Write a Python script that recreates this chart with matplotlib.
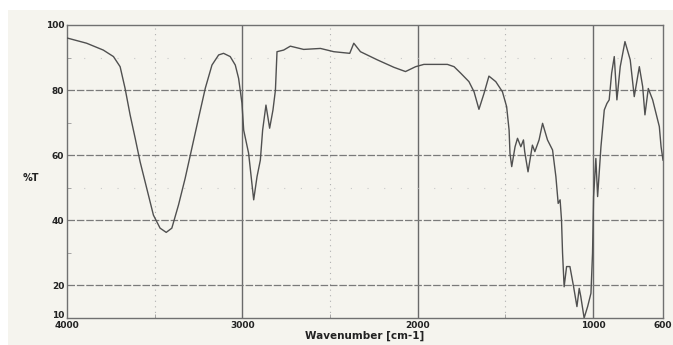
import numpy as np
import matplotlib.pyplot as plt
from matplotlib.patches import Rectangle

# IR spectrum: wavenumber [cm-1] and %T
wavenumber = [4000, 3992, 3888, 3793, 3735, 3697, 3669, 3640, 3611, 3583,
              3545, 3507, 3469, 3434, 3402, 3364, 3326, 3288, 3250, 3211,
              3173, 3135, 3107, 3069, 3040, 3021, 3002, 2992, 2964, 2935,
              2916, 2897, 2884, 2865, 2844, 2825, 2811, 2802, 2764, 2726,
              2650, 2554, 2478, 2387, 2364, 2326, 2230, 2135, 2069, 2011,
              1964, 1888, 1830, 1792, 1754, 1707, 1678, 1650, 1621, 1593,
              1554, 1516, 1492, 1478, 1473, 1463, 1444, 1430, 1411, 1396,
              1389, 1370, 1345, 1331, 1307, 1287, 1259, 1230, 1211, 1198,
              1187, 1179, 1173, 1164, 1150, 1131, 1110, 1091, 1078, 1069,
              1050, 1030, 1011, 1002, 996, 983, 973, 954, 935, 920,
              907, 893, 878, 863, 844, 817, 787, 764, 735, 716,
              703, 684, 659, 640, 621, 611, 600]
transmittance = [96.0, 95.9, 94.4, 92.3, 90.3, 87.2, 80.6, 72.4, 65.2, 58.0,
                 49.8, 41.6, 37.6, 36.3, 37.6, 44.7, 52.9, 62.1, 71.3, 80.6,
                 87.7, 90.8, 91.3, 90.3, 87.7, 83.6, 76.0, 67.7, 60.6, 46.3,
                 53.4, 58.5, 67.7, 75.4, 68.3, 73.9, 80.0, 91.8, 92.3, 93.5,
                 92.5, 92.8, 91.8, 91.3, 94.4, 91.8, 89.3, 87.0, 85.7, 87.2,
                 87.9, 87.9, 87.9, 87.2, 85.2, 82.6, 79.5, 74.1, 79.0, 84.3,
                 82.6, 79.5, 74.9, 67.7, 60.6, 56.5, 62.6, 65.2, 62.6, 64.7,
                 61.1, 54.9, 63.1, 61.1, 64.7, 69.8, 64.7, 61.6, 53.4, 45.2,
                 46.3, 40.1, 29.9, 19.6, 25.8, 25.8, 19.6, 13.5, 19.1, 16.6,
                 10.0, 13.5, 17.6, 29.9, 47.3, 59.0, 47.3, 62.6, 73.9, 75.9,
                 77.0, 85.2, 90.3, 77.0, 87.2, 94.9, 89.3, 78.0, 87.2, 81.1,
                 72.4, 80.5, 77.0, 72.9, 68.8, 62.6, 58.5]

xticks = [4000, 3000, 2000, 1000, 600]
yticks = [10, 20, 40, 60, 80, 100]

bg = '#f5f4ee'
txt = '#222222'
fig = plt.figure(figsize=(6.73, 3.45), dpi=100, facecolor='white')
fig.patches.append(Rectangle((8 / 673, 0), 1, 1 - 10 / 345, transform=fig.transFigure,
                             facecolor=bg, edgecolor='none', zorder=-10))
ax = fig.add_axes([67 / 673, 27 / 345, 596 / 673, 293 / 345])
ax.set_facecolor(bg)

ax.set_xlim(4000, 600)
ax.set_ylim(10, 100)

# grid: solid verticals at thousands, dotted at half thousands, dashed horizontals
for x in [3000, 2000, 1000]:
    ax.axvline(x, color='#6a6a6a', lw=1.0, zorder=1)
for x in [3500, 2500, 1500]:
    ax.axvline(x, color='#b0b0b0', lw=0.8, ls=(0, (1, 4)), zorder=1)
for y in [20, 40, 60, 80]:
    ax.axhline(y, color='#7a7a7a', lw=0.9, ls=(0, (6, 1.5)), zorder=1)
for y in [50, 90]:
    ax.axhline(y, color='#c8c8c8', lw=0.8, ls=(0, (1, 14)), zorder=1)

ax.plot(wavenumber, transmittance, color='#505050', lw=1.0, zorder=3)

ax.set_xticks(xticks)
ax.set_xticklabels([str(v) for v in xticks])
ax.set_xticks([3500, 2500, 1500], minor=True)
ax.set_yticks(yticks)
# the bottom label "10" is placed by hand so it sits just above "4000"
ax.set_yticklabels([''] + [str(v) for v in yticks[1:]])
ax.set_yticks([30, 50, 70, 90], minor=True)
ax.tick_params(axis='both', which='major', length=0, labelsize=6.5, pad=2,
               labelcolor=txt)
ax.tick_params(axis='x', which='major', pad=2)
ax.tick_params(axis='both', which='minor', length=3, direction='in', color='#999999')
for lab in ax.get_xticklabels() + ax.get_yticklabels():
    lab.set_fontweight('bold')
ax.annotate(str(yticks[0]), xy=(0, yticks[0]), xycoords=('axes fraction', 'data'),
            xytext=(-2, 1.5), textcoords='offset points', ha='right', va='center',
            fontsize=6.5, fontweight='bold', color=txt)

for s in ax.spines.values():
    s.set_color('#707070')
    s.set_linewidth(1.0)

fig.text(31 / 673, 1 - 178 / 345, '%T', ha='center', va='center',
         fontsize=7, fontweight='bold', color=txt)
ax.set_xlabel('Wavenumber [cm-1]', fontsize=7.5, fontweight='bold', color=txt,
              labelpad=1)

fig.savefig('out.png', dpi=100, facecolor=fig.get_facecolor())
